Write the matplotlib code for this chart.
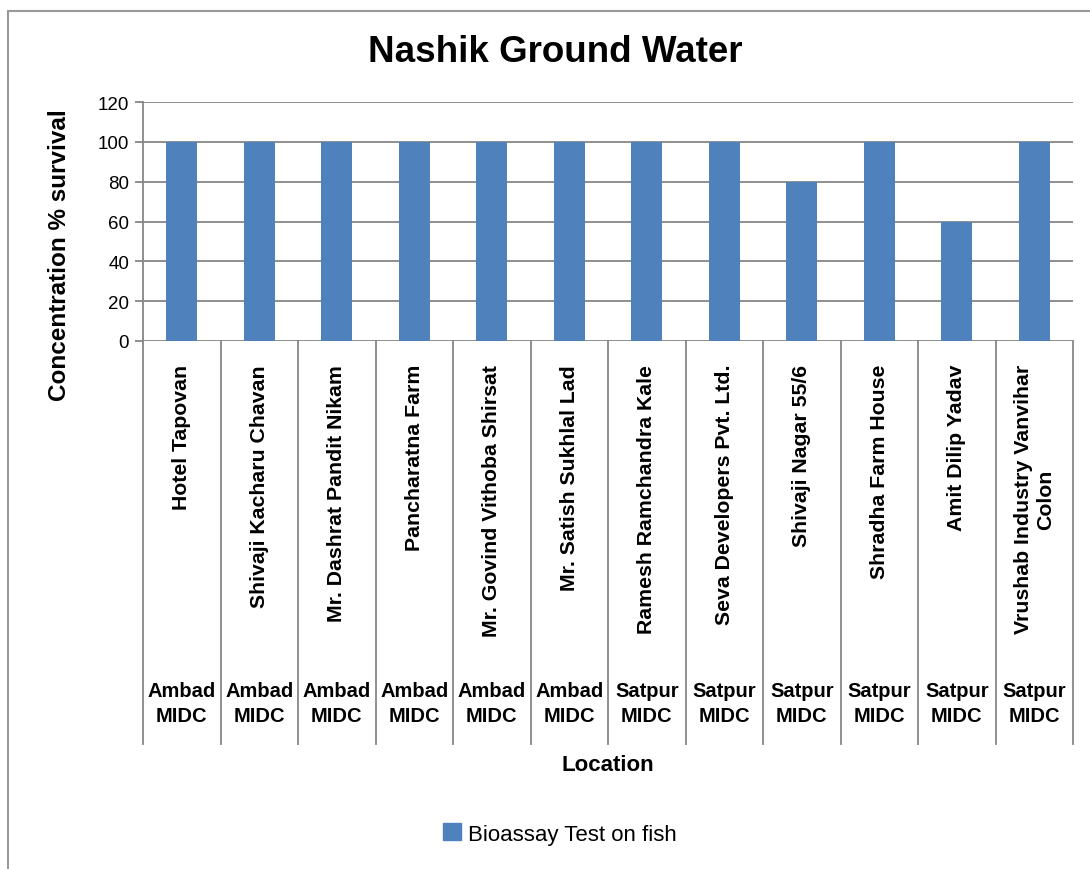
import numpy as np
import matplotlib.pyplot as plt
from matplotlib.patches import Rectangle

locations = ["Hotel Tapovan", "Shivaji Kacharu Chavan", "Mr. Dashrat Pandit Nikam",
             "Pancharatna Farm", "Mr. Govind Vithoba Shirsat", "Mr. Satish Sukhlal Lad",
             "Ramesh Ramchandra Kale", "Seva Developers Pvt. Ltd.", "Shivaji Nagar 55/6",
             "Shradha Farm House", "Amit Dilip Yadav", "Vrushab Industry Vanvihar\nColon"]
areas = ["Ambad\nMIDC"] * 6 + ["Satpur\nMIDC"] * 6
survival = [100, 100, 100, 100, 100, 100, 100, 100, 80, 100, 60, 100]
yticks = [0, 20, 40, 60, 80, 100, 120]

plt.rcParams["font.family"] = ["Liberation Sans", "DejaVu Sans"]

blue = "#4F81BD"
grey = "#868686"

fig = plt.figure(figsize=(10.9, 8.7), dpi=100)
fig.patches.append(Rectangle((8 / 1090, -0.1), 1.2, 1.1 - 12 / 870,
                             transform=fig.transFigure, fill=False,
                             edgecolor="#999999", linewidth=1.5))
ax = fig.add_axes([143 / 1090, 1 - 342 / 870, (1073 - 143) / 1090, (342 - 103) / 870])

x = np.arange(len(survival))
ax.bar(x, survival, width=0.4, color=blue, zorder=3)
ax.set_xlim(-0.5, len(survival) - 0.5)
ax.set_ylim(0, 120)
ax.set_yticks(yticks)
ax.set_yticklabels([str(t) for t in yticks], fontsize=13.5)
ax.yaxis.grid(True, color=grey, linewidth=1.3)
ax.set_axisbelow(True)
for s in ["top", "right", "bottom"]:
    ax.spines[s].set_visible(False)
ax.spines["left"].set_color(grey)
ax.spines["left"].set_linewidth(1.3)
ax.tick_params(axis="y", color=grey, length=6, width=1.3, pad=4)
ax.set_xticks([])

# category separators below the axis
trans = ax.get_xaxis_transform()
for b in np.arange(len(survival) + 1) - 0.5:
    ax.plot([b, b], [0, -1.686], transform=trans, color=grey, lw=1.3, clip_on=False)

for i, (name, area) in enumerate(zip(locations, areas)):
    ax.text(i, -0.096, name, transform=trans, rotation=90, ha="center", va="top",
            multialignment="center", fontsize=15.3, fontweight="bold", linespacing=1.2)
    ax.text(i, -1.515, area, transform=trans, ha="center", va="center",
            fontsize=14.5, fontweight="bold", linespacing=1.45)

ax.text(0.5, -1.77, "Location", transform=ax.transAxes, ha="center", va="center",
        fontsize=16, fontweight="bold")
fig.text(555 / 1090, 1 - 52 / 870, "Nashik Ground Water", ha="center", va="center",
         fontsize=26.5, fontweight="bold")
fig.text(60 / 1090, 1 - 255 / 870, "Concentration % survival", rotation=90,
         ha="center", va="center", fontsize=17.5, fontweight="bold")

handle = Rectangle((0, 0), 1, 1, color=blue)
fig.legend([handle], ["Bioassay Test on fish"], loc="center",
           bbox_to_anchor=(560 / 1090, 1 - 835 / 870), frameon=False,
           prop={"size": 16}, handlelength=0.8, handleheight=0.8,
           handletextpad=0.3)

fig.savefig("out.png", dpi=100)
